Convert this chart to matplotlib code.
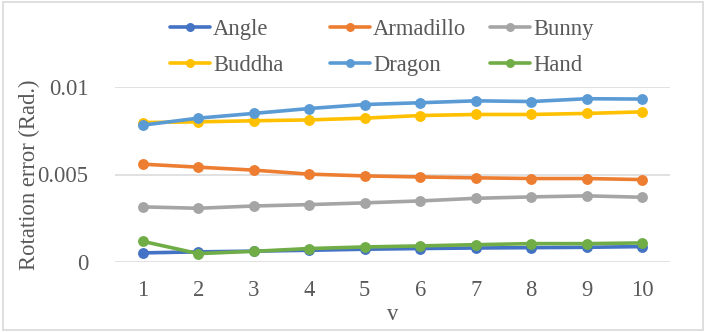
import matplotlib
matplotlib.use("Agg")
import matplotlib.pyplot as plt
from matplotlib.patches import Rectangle

v = [1, 2, 3, 4, 5, 6, 7, 8, 9, 10]
angle = [0.00052, 0.00058, 0.00062, 0.00067, 0.00073, 0.00077, 0.00080, 0.00082, 0.00084, 0.00088]
armadillo = [0.00559, 0.00542, 0.00525, 0.00502, 0.00492, 0.00486, 0.00481, 0.00477, 0.00477, 0.00471]
bunny = [0.00315, 0.00307, 0.00320, 0.00328, 0.00338, 0.00349, 0.00364, 0.00372, 0.00378, 0.00370]
buddha = [0.00797, 0.00801, 0.00807, 0.00812, 0.00822, 0.00837, 0.00843, 0.00843, 0.00849, 0.00858]
dragon = [0.00782, 0.00822, 0.00849, 0.00877, 0.00900, 0.00910, 0.00921, 0.00917, 0.00933, 0.00931]
hand = [0.00118, 0.00048, 0.00061, 0.00077, 0.00086, 0.00092, 0.00099, 0.00105, 0.00105, 0.00109]

names = ["Angle", "Armadillo", "Bunny", "Buddha", "Dragon", "Hand"]
series = [angle, armadillo, bunny, buddha, dragon, hand]
colors = ["#4472C4", "#ED7D31", "#A5A5A5", "#FFC000", "#5B9BD5", "#70AD47"]

yticks = [0, 0.005, 0.01]
ytick_labels = ["0", "0.005", "0.01"]

plt.rcParams["font.family"] = ["Liberation Serif", "DejaVu Serif"]
text_color = "#595959"
grid_color = "#D9D9D9"
fs = 16.3

W, H = 706, 332
fig = plt.figure(figsize=(W / 100, H / 100), dpi=100)
ax = fig.add_axes([115 / W, 1 - 262 / H, (670 - 115) / W, (262 - 87) / H])

handles = []
for name, vals, col in zip(names, series, colors):
    (ln,) = ax.plot(v, vals, color=col, lw=2.6, marker="o", ms=6.8,
                    solid_capstyle="round", label=name, clip_on=False)
    handles.append(ln)

ax.set_xlim(0.5, 10.5)
ax.set_ylim(0, 0.01)
ax.set_xticks(v)
ax.set_yticks(yticks, ytick_labels)
ax.tick_params(length=0, labelsize=fs, labelcolor=text_color)
ax.tick_params(axis="y", pad=19)
ax.tick_params(axis="x", pad=13)
ax.grid(axis="y", color=grid_color, lw=1.1)
ax.set_axisbelow(True)
for s in ax.spines.values():
    s.set_visible(False)

ax.set_xlabel("v", fontsize=fs, color=text_color, labelpad=2)
ax.set_ylabel("Rotation error (Rad.)", fontsize=fs, color=text_color)
ax.yaxis.set_label_coords((40 - 115) / (670 - 115), 0.5)

# legend: three columns of equal width like Excel
col_x = [170, 330, 490]
for i, x in enumerate(col_x):
    hs = [handles[i], handles[i + 3]]
    fig.legend(hs, [h.get_label() for h in hs], loc="upper left",
               bbox_to_anchor=(x / W, 1 - 19 / H), frameon=False,
               fontsize=fs, labelcolor=text_color, handlelength=1.77,
               handletextpad=0.13, labelspacing=0.65, markerscale=0.8,
               borderpad=0, borderaxespad=0)

fig.patches.append(Rectangle((2.5 / W, 2.5 / H), 700.5 / W, 328 / H,
                             transform=fig.transFigure, fill=False,
                             edgecolor=grid_color, lw=1.2))

fig.savefig("out.png", dpi=100)
